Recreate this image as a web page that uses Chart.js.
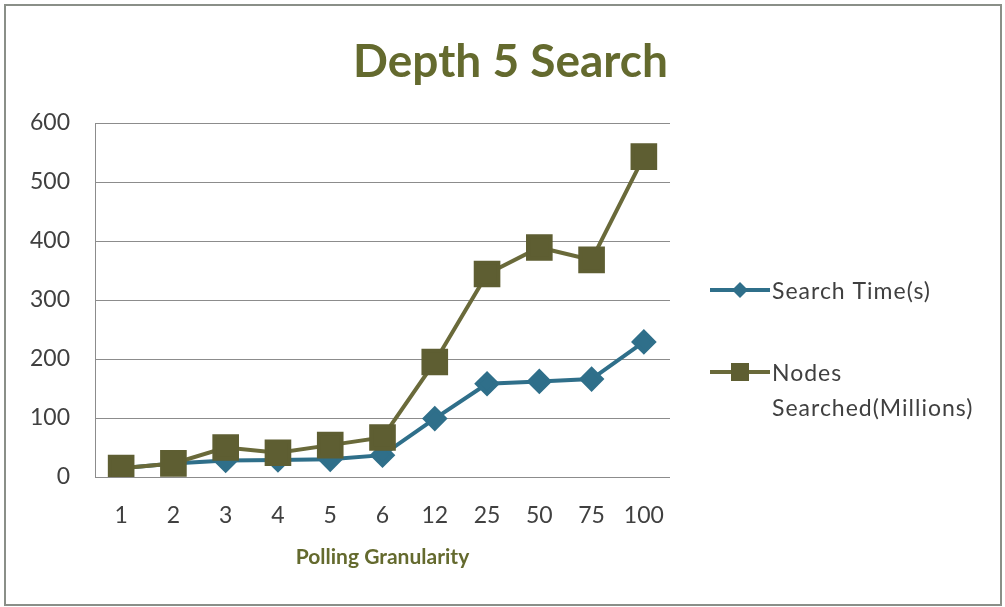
<!DOCTYPE html>
<html>
<head>
<meta charset="utf-8">
<script src="https://cdn.jsdelivr.net/npm/chart.js@4"></script>
<style>
  html, body { margin: 0; padding: 0; background: #fff; }
  #wrap { width: 1005px; height: 607px; }
</style>
</head>
<body>
<div id="wrap"><canvas id="myChart"></canvas></div>
<script>
// Set Data
const granularity = ["1", "2", "3", "4", "5", "6", "12", "25", "50", "75", "100"];
const searchTime = [15, 23, 28, 29, 30, 37, 99, 158, 162, 166, 229];
const nodesSearched = [15, 23, 50, 41, 54, 67, 195, 344, 389, 368, 543];
const seriesNames = [["Search Time(s)"], ["Nodes", "Searched(Millions)"]];
const yTicks = [0, 100, 200, 300, 400, 500, 600];

const timeColor = "#2F6F8A";
const nodesColor = "#6A6A3A";
const nodesMarker = "#5E5E32";
const titleColor = "#646A2E";
const textColor = "#404040";

// frame, title and side legend drawn on the canvas
const extras = {
  id: "extras",
  beforeDraw(chart) {
    const ctx = chart.ctx;
    ctx.save();
    ctx.fillStyle = "#fff";
    ctx.fillRect(0, 0, chart.width, chart.height);
    ctx.strokeStyle = "#8A8F88";
    ctx.lineWidth = 2;
    ctx.strokeRect(5, 5, chart.width - 9, chart.height - 7);
    ctx.restore();
  },
  afterDraw(chart) {
    const ctx = chart.ctx;
    const area = chart.chartArea;
    ctx.save();
    // title
    ctx.fillStyle = titleColor;
    ctx.font = "bold 46px Lato";
    ctx.textAlign = "center";
    ctx.textBaseline = "alphabetic";
    ctx.fillText("Depth 5 Search", chart.width / 2 + 8, 77);

    // legend
    const x0 = area.right + 40;
    let y = 290;
    chart.data.datasets.forEach((ds, i) => {
      ctx.strokeStyle = ds.borderColor;
      ctx.lineWidth = 4;
      ctx.beginPath();
      ctx.moveTo(x0, y);
      ctx.lineTo(x0 + 60, y);
      ctx.stroke();
      ctx.fillStyle = ds.pointBackgroundColor;
      ctx.beginPath();
      if (ds.pointStyle === "rectRot") {
        ctx.moveTo(x0 + 30, y - 8);
        ctx.lineTo(x0 + 38, y);
        ctx.lineTo(x0 + 30, y + 8);
        ctx.lineTo(x0 + 22, y);
      } else {
        ctx.rect(x0 + 21, y - 9, 18, 18);
      }
      ctx.fill();
      ctx.fillStyle = textColor;
      ctx.font = "23px Lato";
      ctx.letterSpacing = "1px";
      ctx.textAlign = "left";
      ctx.textBaseline = "middle";
      seriesNames[i].forEach((line, k) => {
        ctx.fillText(line, x0 + 62, y + 2 + k * 35);
      });
      ctx.letterSpacing = "0px";
      y += 82;
    });
    ctx.restore();
  },
};

new Chart("myChart", {
  type: "line",
  data: {
    labels: granularity,
    datasets: [
      {
        label: seriesNames[0].join(" "),
        data: searchTime,
        borderColor: timeColor,
        backgroundColor: timeColor,
        pointBackgroundColor: timeColor,
        pointBorderColor: timeColor,
        pointStyle: "rectRot",
        pointRadius: 10,
        borderWidth: 4,
        tension: 0,
        order: 1,
      },
      {
        label: seriesNames[1].join(" "),
        data: nodesSearched,
        borderColor: nodesColor,
        backgroundColor: nodesMarker,
        pointBackgroundColor: nodesMarker,
        pointBorderColor: nodesMarker,
        pointStyle: "rect",
        pointRadius: 16,
        borderWidth: 4,
        tension: 0,
        order: 0,
      },
    ],
  },
  options: {
    responsive: true,
    maintainAspectRatio: false,
    animation: false,
    layout: { padding: { left: 10, right: 335, top: 123, bottom: 10 } },
    plugins: {
      legend: { display: false },
      title: { display: false },
      tooltip: { enabled: false },
    },
    scales: {
      x: {
        offset: true,
        afterFit(scale) {
          scale.height = 120;
        },
        grid: { display: false, drawTicks: false },
        border: { display: false },
        ticks: { color: textColor, font: { family: "Lato", size: 23 }, padding: 25, maxRotation: 0 },
        title: {
          display: true,
          text: "Polling Granularity",
          color: titleColor,
          font: { family: "Lato", size: 21, weight: "bold" },
          padding: { top: 0, bottom: 27 },
        },
      },
      y: {
        min: yTicks[0],
        max: yTicks[yTicks.length - 1],
        afterFit(scale) {
          scale.width = 85;
        },
        afterBuildTicks(scale) {
          scale.ticks = yTicks.map((v) => ({ value: v }));
        },
        grid: { color: "#8C8C8C", lineWidth: 1, drawTicks: false },
        border: { display: true, color: "#8C8C8C", width: 1 },
        ticks: { color: textColor, font: { family: "Lato", size: 23 }, padding: 25 },
      },
    },
  },
  plugins: [extras],
});
</script>
</body>
</html>
